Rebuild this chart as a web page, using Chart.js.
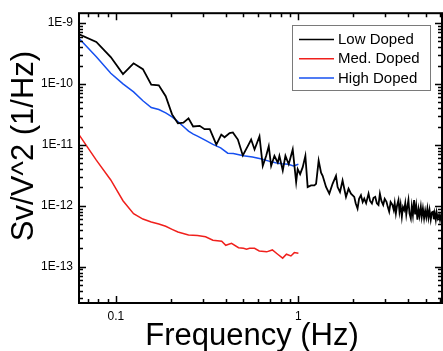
<!DOCTYPE html>
<html>
<head>
<meta charset="utf-8">
<script src="https://cdn.jsdelivr.net/npm/chart.js@4.4.1/dist/chart.umd.min.js"></script>
<style>
  html, body { margin: 0; padding: 0; background: #fff; }
</style>
</head>
<body>
<canvas id="c" width="443" height="351"></canvas>
<script>
// Noise spectra (frequency in Hz, Sv/V^2 in 1/Hz)
const lowFreq = [0.0625, 0.078125, 0.09375, 0.109375, 0.125, 0.140625, 0.15625, 0.171875, 0.1875, 0.203125,
  0.21875, 0.234375, 0.25, 0.265, 0.288, 0.306, 0.327, 0.34, 0.355, 0.378,
  0.394, 0.42, 0.4375, 0.466, 0.496, 0.528, 0.551, 0.575, 0.612, 0.638,
  0.666, 0.688, 0.709, 0.739, 0.771, 0.787, 0.821, 0.849, 0.885, 0.931,
  0.972, 0.991, 1.022, 1.056, 1.092, 1.124, 1.173, 1.223, 1.25, 1.291,
  1.331, 1.358, 1.417, 1.477, 1.539, 1.607, 1.64, 1.69, 1.746, 1.823,
  1.883, 1.941, 2.023, 2.06, 2.109, 2.15, 2.201, 2.25, 2.295, 2.35,
  2.423, 2.47, 2.528, 2.58, 2.636, 2.69, 2.747, 2.796, 2.85, 2.915,
  2.97, 3.038, 3.09, 3.143, 3.2, 3.276, 3.33, 3.37, 3.42, 3.47,
  3.534, 3.58, 3.63, 3.688, 3.74, 3.796, 3.85, 3.9, 3.95, 4.007,
  4.06, 4.13, 4.18, 4.24, 4.305, 4.36, 4.42, 4.488, 4.55, 4.61,
  4.684, 4.74, 4.81, 4.883, 4.95, 5.02, 5.09, 5.16, 5.23, 5.311,
  5.39, 5.468, 5.52, 5.58, 5.657, 5.72, 5.8, 5.896, 5.97, 6.05, 6.1];
const lowVal = [6.6e-10, 4.9e-10, 2.76e-10, 1.45e-10, 2.18e-10, 1.75e-10, 9.7e-11, 9.5e-11, 6.3e-11, 3.16e-11,
  2.26e-11, 2.32e-11, 2.73e-11, 2.0e-11, 2.05e-11, 1.81e-11, 1.81e-11, 1.38e-11, 1.01e-11, 1.47e-11,
  1.33e-11, 1.56e-11, 1.6e-11, 1.22e-11, 6.7e-12, 9.5e-12, 1.22e-11, 8.4e-12, 1.38e-11, 4.5e-12,
  6.6e-12, 9.5e-12, 4.5e-12, 6.6e-12, 5.1e-12, 6.6e-12, 3.8e-12, 6.6e-12, 4.8e-12, 8.4e-12,
  2.44e-12, 4.0e-12, 3.3e-12, 4.3e-12, 6.6e-12, 2.03e-12, 2.16e-12, 2.16e-12, 2.29e-12, 5.5e-12,
  3.5e-12, 3.1e-12, 2.03e-12, 1.58e-12, 2.29e-12, 3.1e-12, 2.03e-12, 1.68e-12, 2.6e-12, 1.4e-12,
  1.9e-12, 1.58e-12, 1.4e-12, 1.1e-12, 9.0e-13, 1.3e-12, 1.49e-12, 1.15e-12, 1.31e-12, 1.1e-12,
  1.58e-12, 1.2e-12, 1.09e-12, 1.35e-12, 1.4e-12, 1.1e-12, 1.03e-12, 1.58e-12, 1.2e-12, 1.03e-12,
  1.3e-12, 1.16e-12, 9.5e-13, 8.0e-13, 1.15e-12, 1.03e-12, 8.5e-13, 1.1e-12, 7.5e-13, 1.0e-12,
  1.24e-12, 8.0e-13, 1.05e-12, 6.6e-13, 9.5e-13, 8.5e-13, 1.1e-12, 7.2e-13, 9.5e-13, 1.24e-12,
  7.5e-13, 6.2e-13, 9.8e-13, 7.0e-13, 1.24e-12, 7.2e-13, 1.0e-12, 5.9e-13, 8.8e-13, 6.8e-13,
  9.6e-13, 6.6e-13, 9.0e-13, 6.2e-13, 8.3e-13, 6.5e-13, 9.0e-13, 6.4e-13, 8.5e-13, 5.9e-13,
  7.8e-13, 8.0e-13, 6.0e-13, 7.6e-13, 5.9e-13, 7.8e-13, 6.2e-13, 7.1e-13, 5.8e-13, 7.0e-13, 6.2e-13];

const medFreq = [0.0625, 0.078125, 0.09375, 0.109375, 0.125, 0.140625, 0.15625, 0.171875, 0.1875, 0.203125,
  0.21875, 0.25, 0.28, 0.31, 0.34, 0.38, 0.40, 0.43, 0.47, 0.50,
  0.52, 0.54, 0.575, 0.61, 0.67, 0.72, 0.77, 0.82, 0.86, 0.91, 0.95, 1.0];
const medVal = [1.5e-11, 5.6e-12, 2.65e-12, 1.21e-12, 7.4e-13, 6.05e-13, 5.4e-13, 5.0e-13, 4.6e-13, 4.1e-13,
  3.7e-13, 3.3e-13, 3.25e-13, 3.1e-13, 2.72e-13, 2.62e-13, 2.24e-13, 2.41e-13, 2.05e-13, 2.0e-13,
  1.93e-13, 2.0e-13, 2.0e-13, 1.81e-13, 1.75e-13, 1.88e-13, 1.6e-13, 1.38e-13, 1.6e-13, 1.5e-13, 1.7e-13, 1.66e-13];

const highFreq = [0.0625, 0.078125, 0.09375, 0.109375, 0.125, 0.140625, 0.15625, 0.171875, 0.1875, 0.203125,
  0.21875, 0.234375, 0.25, 0.265625, 0.28, 0.31, 0.34, 0.375, 0.41, 0.44,
  0.5, 0.56, 0.62, 0.69, 0.75, 0.81, 0.88, 0.94, 1.0];
const highVal = [5.7e-10, 2.8e-10, 1.5e-10, 1.0e-10, 7.4e-11, 5.3e-11, 4.1e-11, 3.8e-11, 3.34e-11, 2.88e-11,
  2.4e-11, 2.0e-11, 1.68e-11, 1.5e-11, 1.39e-11, 1.18e-11, 1.02e-11, 8.9e-12, 7.3e-12, 7.2e-12,
  6.6e-12, 6.3e-12, 5.9e-12, 5.4e-12, 5.1e-12, 4.9e-12, 4.8e-12, 4.5e-12, 4.8e-12];

const seriesNames = ['Low Doped', 'Med. Doped', 'High Doped'];
const seriesColors = ['#000000', '#f0201c', '#1650f0'];
const seriesWidths = [1.8, 1.5, 1.5];
const xTicks = [0.1, 1];
const yTicks = [1e-13, 1e-12, 1e-11, 1e-10, 1e-9];
const xTitle = 'Frequency (Hz)';
const yTitle = 'Sv/V^2 (1/Hz)';

const FONT = '"Liberation Sans", Arial, sans-serif';

function pts(fs, vs) {
  return fs.map((f, i) => ({ x: f, y: vs[i] }));
}

// inward ticks on all four sides + box frame + axis titles
const frame = {
  id: 'frame',
  afterDraw(chart) {
    const { ctx, chartArea: a, scales: { x, y } } = chart;
    ctx.save();
    ctx.strokeStyle = '#000';
    ctx.lineWidth = 1.5;
    ctx.beginPath();
    for (let d = -2; d <= 1; d++) {
      for (let m = 1; m <= 9; m++) {
        const v = m * Math.pow(10, d);
        if (v < x.min || v > x.max) continue;
        const px = Math.round(x.getPixelForValue(v)) + 0.5;
        const len = m === 1 ? 7 : 4;
        ctx.moveTo(px, a.bottom); ctx.lineTo(px, a.bottom - len);
        ctx.moveTo(px, a.top); ctx.lineTo(px, a.top + len);
      }
    }
    for (let d = -14; d <= -9; d++) {
      for (let m = 1; m <= 9; m++) {
        const v = m * Math.pow(10, d);
        if (v < y.min || v > y.max) continue;
        const py = Math.round(y.getPixelForValue(v)) + 0.5;
        const len = m === 1 ? 7 : 4;
        ctx.moveTo(a.left, py); ctx.lineTo(a.left + len, py);
        ctx.moveTo(a.right, py); ctx.lineTo(a.right - len, py);
      }
    }
    ctx.stroke();
    ctx.lineWidth = 2;
    ctx.strokeRect(a.left, a.top, a.right - a.left, a.bottom - a.top);

    ctx.fillStyle = '#000';
    ctx.font = '31px ' + FONT;
    ctx.textAlign = 'center';
    ctx.textBaseline = 'alphabetic';
    ctx.fillText(xTitle, 252, 345);
    ctx.translate(33, 146);
    ctx.rotate(-Math.PI / 2);
    ctx.fillText(yTitle, 0, 0);
    ctx.restore();
  },
};

// boxed legend inside the plot, top right
const boxLegend = {
  id: 'boxLegend',
  afterDraw(chart) {
    const ctx = chart.ctx;
    ctx.save();
    ctx.fillStyle = '#fff';
    ctx.fillRect(292, 25, 139, 65);
    ctx.strokeStyle = '#7a7a7a';
    ctx.lineWidth = 1;
    ctx.strokeRect(292.5, 25.5, 138, 65);
    ctx.font = '15px ' + FONT;
    ctx.textBaseline = 'middle';
    ctx.textAlign = 'left';
    chart.data.datasets.forEach((ds, i) => {
      const yy = 39.5 + i * 19.2;
      ctx.strokeStyle = ds.borderColor;
      ctx.lineWidth = 1.5;
      ctx.beginPath();
      ctx.moveTo(299, yy); ctx.lineTo(334, yy);
      ctx.stroke();
      ctx.fillStyle = '#000';
      ctx.fillText(ds.label, 338, yy + 0.5);
    });
    ctx.restore();
  },
};

new Chart(document.getElementById('c'), {
  type: 'line',
  data: {
    datasets: [
      { label: seriesNames[0], data: pts(lowFreq, lowVal) },
      { label: seriesNames[1], data: pts(medFreq, medVal) },
      { label: seriesNames[2], data: pts(highFreq, highVal) },
    ].map((d, i) => ({
      ...d, borderColor: seriesColors[i], borderWidth: seriesWidths[i],
      pointRadius: 0, tension: 0, fill: false,
    })),
  },
  options: {
    responsive: false,
    animation: false,
    layout: { padding: { left: 0, right: 1, top: 8, bottom: 0 } },
    plugins: { legend: { display: false }, tooltip: { enabled: false } },
    scales: {
      x: {
        type: 'logarithmic', position: 'bottom', min: 0.0628, max: 6.12,
        grid: { display: false, drawTicks: false }, border: { display: false },
        afterBuildTicks: (s) => { s.ticks = xTicks.map((v) => ({ value: v })); },
        afterFit: (s) => { s.height = 48; },
        ticks: {
          color: '#000', font: { family: FONT, size: 12 }, padding: 6,
          maxRotation: 0, autoSkip: false, callback: (v) => String(v),
        },
      },
      y: {
        type: 'logarithmic', min: 2.53e-14, max: 1.45e-9,
        grid: { display: false, drawTicks: false }, border: { display: false },
        afterBuildTicks: (s) => { s.ticks = yTicks.map((v) => ({ value: v })); },
        afterFit: (s) => { s.width = 79; },
        ticks: {
          color: '#000', font: { family: FONT, size: 12 }, padding: 6, autoSkip: false,
          callback: (v) => '1E' + Math.round(Math.log10(v)),
        },
      },
    },
  },
  plugins: [frame, boxLegend],
});
</script>
</body>
</html>
